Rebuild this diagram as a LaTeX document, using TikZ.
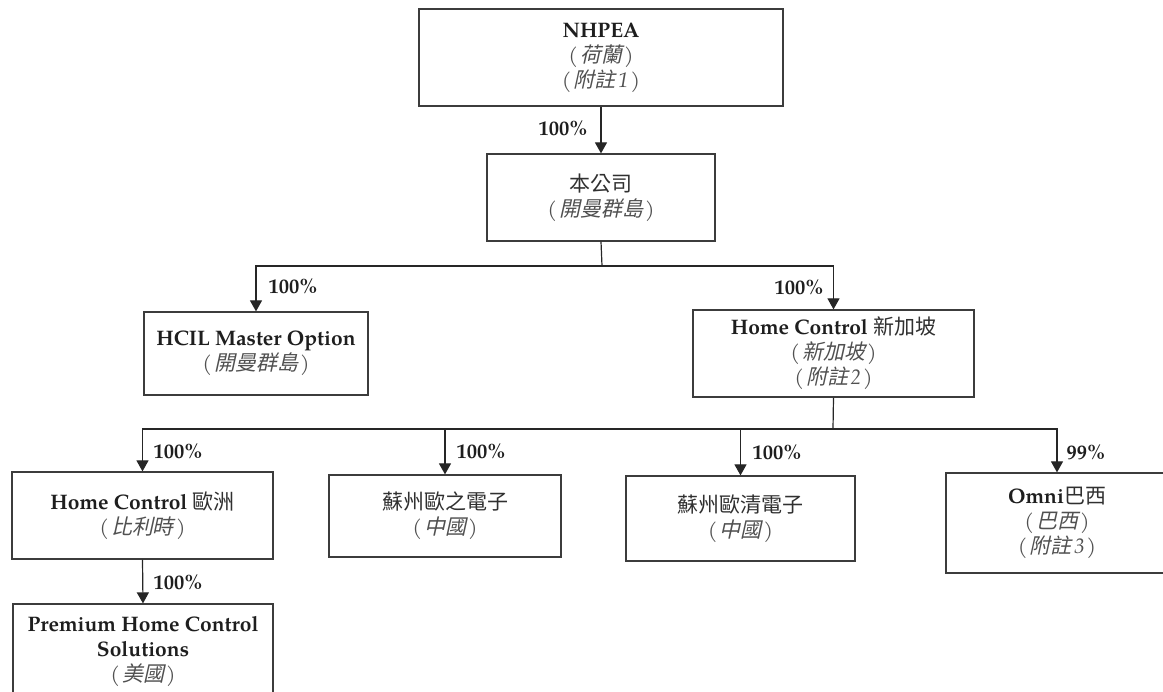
\documentclass[tikz,border=0pt]{standalone}
\usepackage{fontspec}
\setmainfont{TeX Gyre Pagella}
\newfontfamily\cjk{Noto Sans CJK TC}
\newfontfamily\cjki{Noto Sans CJK TC}[FakeSlant=0.22]
\usetikzlibrary{arrows.meta}
\definecolor{boxc}{HTML}{3C3C3C}
\definecolor{cjkc}{HTML}{303030}
\definecolor{itc}{HTML}{505050}
\definecolor{txtc}{HTML}{1E1E1E}
\newcommand{\myzh}[1]{{\cjk\color{cjkc}#1}}
\newcommand{\myzhi}[1]{{\color{itc}\itshape(\kern2pt\cjki #1\rmfamily\itshape\kern2pt)}}
\newcommand{\myd}[1]{{\rmfamily\itshape\kern2.5pt #1}}
\begin{document}
\begin{tikzpicture}[x=1pt,y=-1pt,
  box/.style={draw=boxc,line width=1.2pt,align=center,inner sep=0pt,text=txtc,
    font=\fontsize{21}{25}\selectfont},
  pct/.style={font=\bfseries\fontsize{20.5}{22}\selectfont,inner sep=0pt,text=txtc},
  lin/.style={line width=1.2pt,draw=black!85},
  arr/.style={lin,-{Triangle[width=12pt,length=11pt]}}]
\useasboundingbox (0,0) rectangle (1163,692);
\clip (0,0) rectangle (1163,692);
% boxes
\node[box,minimum width=364pt,minimum height=97pt] (A) at (601,57.5)
  {\textbf{NHPEA}\\\myzhi{荷蘭}\\\myzhi{附註\myd{1}}};
\node[box,minimum width=228pt,minimum height=87pt] (B) at (601,197.5)
  {\myzh{本公司}\\\myzhi{開曼群島}};
\node[box,minimum width=224pt,minimum height=83pt] (C) at (256,353.5)
  {\textbf{HCIL Master Option}\\\myzhi{開曼群島}};
\node[box,minimum width=281pt,minimum height=87pt] (D) at (833.5,353.5)
  {\textbf{Home Control} \myzh{新加坡}\\\myzhi{新加坡}\\\myzhi{附註\myd{2}}};
\node[box,minimum width=261pt,minimum height=87pt] (E) at (142.5,515.5)
  {\textbf{Home Control} \myzh{歐洲}\\\myzhi{比利時}};
\node[box,minimum width=232pt,minimum height=82pt] (F) at (445,516)
  {\myzh{蘇州歐之電子}\\\myzhi{中國}};
\node[box,minimum width=229pt,minimum height=85pt] (G) at (740.5,518.5)
  {\myzh{蘇州歐清電子}\\\myzhi{中國}};
\node[box,minimum width=222pt,minimum height=100pt] (H) at (1057,523)
  {\textbf{Omni}\myzh{巴西}\\\myzhi{巴西}\\\myzhi{附註\myd{3}}};
\node[box,minimum width=260pt,minimum height=96pt] (I) at (143,652)
  {\textbf{Premium Home Control}\\\textbf{Solutions}\\\myzhi{美國}};
% junctions
\coordinate (j1) at (602,266);
\coordinate (j2) at (833,429);
% connectors
\draw[arr] (A.south) -- (B.north);
\draw[lin] (B.south) -- (j1);
\draw[arr] (j1) -| (C.north);
\draw[arr] (j1) -| (D.north);
\draw[lin] (D.south) -- (j2);
\draw[arr] (j2) -| (E.north);
\draw[arr] (j2) -| (F.north);
\draw[arr] (j2) -| (G.north);
\draw[arr] (j2) -| (H.north);
\draw[arr] (E.south) -- (I.north);
% labels
\node[pct] (l1) at (563,128) {100\%};
\node[pct] (l2) at (293,286) {100\%};
\node[pct] (l3) at (799,287) {100\%};
\node[pct] (l4) at (178,451) {100\%};
\node[pct] (l5) at (481,451) {100\%};
\node[pct] (l6) at (777,452) {100\%};
\node[pct] (l7) at (1086,452) {99\%};
\node[pct] (l8) at (178,582) {100\%};
\end{tikzpicture}
\end{document}
